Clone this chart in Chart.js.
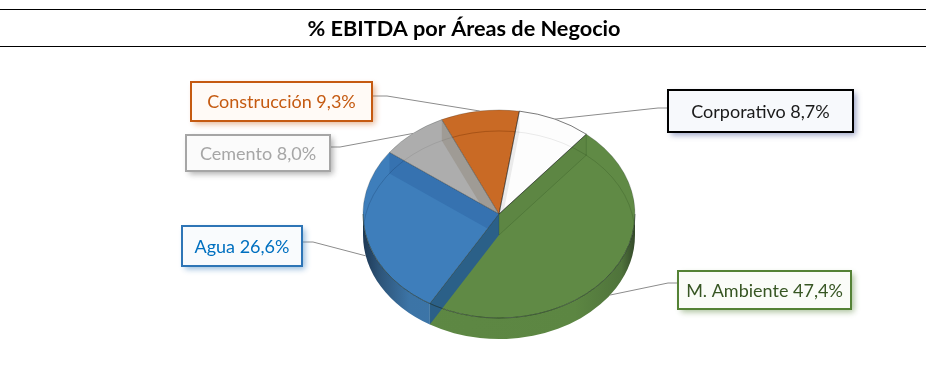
<!DOCTYPE html>
<html>
<head>
<meta charset="utf-8">
<title>% EBITDA por Áreas de Negocio</title>
<script src="https://cdn.jsdelivr.net/npm/chart.js@4/dist/chart.umd.min.js"></script>
<style>
    html, body { margin: 0; padding: 0; background: #fff; }
    #lienzo { position: relative; width: 928px; height: 369px; }
</style>
</head>
<body>
<div id="lienzo"><canvas id="grafico"></canvas></div>
<script>
const titulo = '% EBITDA por Áreas de Negocio';
const categorias = ['Corporativo', 'M. Ambiente', 'Agua', 'Cemento', 'Construcción'];
const valores = [8.7, 47.4, 26.6, 8.0, 9.3];
const coloresCara = ['#fdfdfd', '#608a45', '#3e7ebb', '#adadad', '#c96a25'];
const coloresBorde = ['#000000', '#548235', '#2e75b6', '#a6a6a6', '#c55a11'];
const coloresTexto = ['#1a1a1a', '#375623', '#0070c0', '#a6a6a6', '#c55a11'];
const coloresFondo = ['#f7f9fc', '#fafcf8', '#f9fbfd', '#fbfbfb', '#fffaf6'];
const coloresSombra = ['rgba(68,84,150,0.55)', 'rgba(84,130,53,0.5)', 'rgba(46,117,182,0.5)', 'rgba(90,90,90,0.5)', 'rgba(197,90,17,0.45)'];

// caja de cada etiqueta: x, y, ancho, alto, codo de la linea, altura de la linea
const cajas = [
    [668, 90, 185, 42, 658, 108],
    [678, 271, 173, 38, 668, 283],
    [182, 226, 120, 40, 313, 242],
    [186, 135, 144, 36, 340, 147],
    [191, 82, 181, 39, 387, 96]
];

const centroX = 499;
const centroY = 214;
const achatado = 0.765;
const grosor = 21;
const FUENTE = 'Lato, "Open Sans", sans-serif';

function radioY(arco) {
    return arco.outerRadius * achatado;
}

function punto(arco, angulo, dy) {
    return {
        x: centroX + arco.outerRadius * Math.cos(angulo),
        y: centroY + radioY(arco) * Math.sin(angulo) + dy
    };
}

function trazarPorcion(ctx, arco) {
    ctx.beginPath();
    ctx.moveTo(centroX, centroY);
    ctx.ellipse(centroX, centroY, arco.outerRadius, radioY(arco), 0, arco.startAngle, arco.endAngle);
    ctx.closePath();
}

// pared lateral delantera
function dibujarLateral(ctx, arco, i) {
    const a0 = Math.max(arco.startAngle, 0);
    const a1 = Math.min(arco.endAngle, Math.PI);
    if (a1 <= a0) return;
    const r = arco.outerRadius;
    const grad = ctx.createLinearGradient(centroX - r, 0, centroX + r, 0);
    if (i === 2) {
        grad.addColorStop(0, '#1d3854');
        grad.addColorStop(0.06, '#2d5478');
        grad.addColorStop(0.17, '#3c74a6');
        grad.addColorStop(1, '#3d7ab3');
    } else {
        grad.addColorStop(0, '#5e8844');
        grad.addColorStop(0.78, '#5c8642');
        grad.addColorStop(0.95, '#4f733b');
        grad.addColorStop(1, '#34492a');
    }
    ctx.beginPath();
    ctx.ellipse(centroX, centroY, r, radioY(arco), 0, a0, a1);
    ctx.ellipse(centroX, centroY + grosor, r, radioY(arco), 0, a1, a0, true);
    ctx.closePath();
    ctx.fillStyle = grad;
    ctx.fill();
}

function banda(ctx, arco, angulo, color) {
    const p = punto(arco, angulo, 0);
    const q = punto(arco, angulo, grosor);
    ctx.beginPath();
    ctx.moveTo(centroX, centroY);
    ctx.lineTo(p.x, p.y);
    ctx.lineTo(q.x, q.y);
    ctx.lineTo(centroX, centroY + grosor);
    ctx.closePath();
    ctx.fillStyle = color;
    ctx.fill();
}

function bandaRecortada(ctx, arco, angulo, color) {
    ctx.save();
    trazarPorcion(ctx, arco);
    ctx.clip();
    banda(ctx, arco, angulo, color);
    ctx.restore();
}

// transparencia: el fondo de la tarta se ve a traves de la cara
function dibujarInterior(ctx, arcos) {
    const [corp, amb, agua, cem] = arcos;

    bandaRecortada(ctx, amb, amb.startAngle, 'rgba(40,70,30,0.05)');
    bandaRecortada(ctx, corp, corp.startAngle, '#ebebeb');
    bandaRecortada(ctx, agua, agua.endAngle, '#3672b0');
    bandaRecortada(ctx, cem, cem.endAngle, '#9f9b95');

    const colorArco = ['rgba(0,0,0,0.08)', 'rgba(30,60,20,0.2)', 'rgba(20,50,90,0.25)', 'rgba(0,0,0,0.08)', 'rgba(120,50,0,0.4)'];
    arcos.forEach((arco, i) => {
        ctx.save();
        trazarPorcion(ctx, arco);
        ctx.clip();
        ctx.beginPath();
        ctx.ellipse(centroX, centroY + grosor, arco.outerRadius, radioY(arco), 0, Math.PI, 2 * Math.PI);
        ctx.strokeStyle = colorArco[i];
        ctx.lineWidth = 1;
        ctx.stroke();
        ctx.restore();
    });

    // pared oscura entre agua y medio ambiente
    banda(ctx, agua, agua.startAngle, '#2b6088');

    // lineas del interior del verde
    const p = punto(amb, amb.startAngle, 0);
    const q = punto(amb, amb.startAngle, grosor);
    ctx.beginPath();
    ctx.moveTo(p.x, p.y);
    ctx.lineTo(q.x, q.y);
    ctx.lineTo(centroX, centroY + grosor);
    ctx.lineTo(centroX, centroY);
    ctx.strokeStyle = 'rgba(30,60,20,0.2)';
    ctx.lineWidth = 1;
    ctx.stroke();
}

function dibujarBordes(ctx, arcos) {
    arcos.forEach((arco, i) => {
        trazarPorcion(ctx, arco);
        ctx.strokeStyle = i === 0 ? 'rgba(0,0,0,0.75)' : 'rgba(40,50,50,0.35)';
        ctx.lineWidth = 0.7;
        ctx.stroke();
    });
    const r = arcos[0].outerRadius;
    ctx.beginPath();
    ctx.ellipse(centroX, centroY, r, r * achatado, 0, 0, Math.PI);
    ctx.strokeStyle = 'rgba(25,45,30,0.6)';
    ctx.lineWidth = 0.8;
    ctx.stroke();
}

function dibujarEtiquetas(ctx, arcos) {
    arcos.forEach((arco, i) => {
        const [x, y, w, h, codo, altura] = cajas[i];
        const medio = (arco.startAngle + arco.endAngle) / 2;
        const salida = punto(arco, medio, Math.sin(medio) > 0 ? grosor : 0);
        const lado = codo > x + w / 2 ? x + w : x;

        ctx.beginPath();
        ctx.moveTo(salida.x, salida.y);
        ctx.lineTo(codo, altura);
        ctx.lineTo(lado, altura);
        ctx.strokeStyle = '#8c8c8c';
        ctx.lineWidth = 1;
        ctx.stroke();

        ctx.save();
        ctx.shadowColor = coloresSombra[i];
        ctx.shadowBlur = 6;
        ctx.shadowOffsetX = 3;
        ctx.shadowOffsetY = 3;
        ctx.fillStyle = coloresFondo[i];
        ctx.fillRect(x, y, w, h);
        ctx.restore();

        ctx.strokeStyle = coloresBorde[i];
        ctx.lineWidth = 2;
        ctx.strokeRect(x, y, w, h);

        ctx.fillStyle = coloresTexto[i];
        ctx.font = '18px ' + FUENTE;
        ctx.textAlign = 'center';
        ctx.textBaseline = 'middle';
        const texto = categorias[i] + ' ' + valores[i].toFixed(1).replace('.', ',') + '%';
        ctx.fillText(texto, x + w / 2, y + h / 2 + 1);
    });
}

const tarta3d = {
    id: 'tarta3d',
    beforeDraw(chart) {
        // lineas del encabezado
        const ctx = chart.ctx;
        ctx.fillStyle = '#000';
        ctx.fillRect(0, 9, 926, 1);
        ctx.fillRect(0, 46, 926, 1);
    },
    beforeDatasetsDraw(chart) {
        const ctx = chart.ctx;
        const arcos = chart.getDatasetMeta(0).data;
        arcos.forEach((arco, i) => dibujarLateral(ctx, arco, i));
        ctx.save();
        ctx.translate(centroX, centroY);
        ctx.scale(1, achatado);
        ctx.translate(-arcos[0].x, -arcos[0].y);
    },
    afterDatasetsDraw(chart) {
        const ctx = chart.ctx;
        ctx.restore();
        const arcos = chart.getDatasetMeta(0).data;
        dibujarInterior(ctx, arcos);
        dibujarBordes(ctx, arcos);
        dibujarEtiquetas(ctx, arcos);
    }
};

new Chart(document.getElementById('grafico'), {
    type: 'pie',
    data: {
        labels: categorias,
        datasets: [{
            data: valores,
            backgroundColor: coloresCara,
            borderWidth: 0,
            clip: false
        }]
    },
    options: {
        responsive: true,
        maintainAspectRatio: false,
        animation: false,
        rotation: 8.6,
        radius: 136,
        plugins: {
            legend: { display: false },
            tooltip: { enabled: false },
            title: {
                display: true,
                text: titulo,
                color: '#000',
                font: { family: FUENTE, size: 21.7, weight: 'bold' },
                padding: { top: 16, bottom: 0 }
            }
        }
    },
    plugins: [tarta3d]
});
</script>
</body>
</html>
